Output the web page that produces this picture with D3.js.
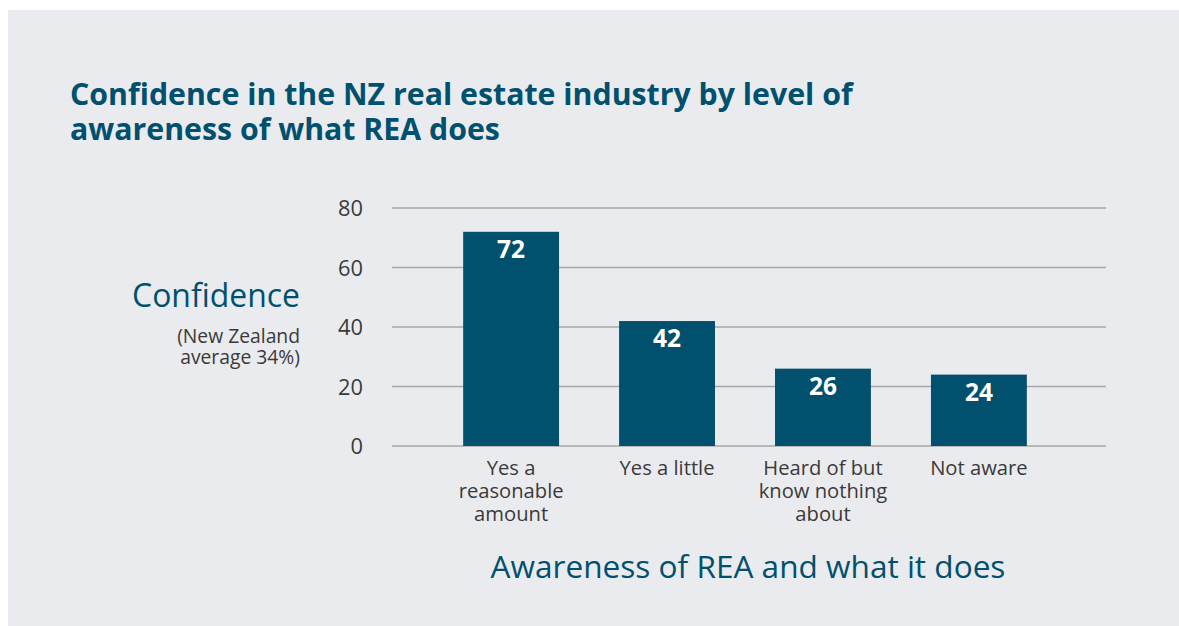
<!DOCTYPE html>
<html><head><meta charset="utf-8">
<script src="https://cdn.jsdelivr.net/npm/d3@7"></script>
<style>body{margin:0;background:#fff;} svg{display:block;} text{font-family:"Open Sans",sans-serif;}</style>
</head><body>
<svg id="c" width="1179" height="626"></svg>
<script>
const categories = [["Yes a","reasonable","amount"],["Yes a little"],["Heard of but","know nothing","about"],["Not aware"]];
const values = [72, 42, 26, 24];
const yTicks = [0, 20, 40, 60, 80];
const titleLines = ["Confidence in the NZ real estate industry by level of", "awareness of what REA does"];

const svg = d3.select("#c");
const teal = "#00506e";
const grey = "#3a3a3a";

// find a font size so that a sample string reaches a target width
function fitSize(str, target, weight, base){
  const t = svg.append("text").attr("font-size",base).attr("font-weight",weight).text(str);
  const w = t.node().getComputedTextLength();
  t.remove();
  return base*target/w;
}

svg.append("rect").attr("x",8).attr("y",10).attr("width",1171).attr("height",616).attr("fill","#eaebef");

const titleSize = fitSize(titleLines[0], 783, "bold", 28);
svg.append("text").attr("x",70).attr("y",105).attr("fill",teal).attr("font-weight","bold").attr("font-size",titleSize)
  .selectAll("tspan").data(titleLines).join("tspan").attr("x",70).attr("dy",(d,i)=>i?35:0).text(d=>d);

const y = d3.scaleLinear().domain([0,80]).range([446,208]);
const keys = categories.map((d,i)=>i);
const x = d3.scaleBand().domain(keys).range([393,1097]).paddingInner(0.385).paddingOuter(0.45);

const g = svg.append("g");
g.selectAll("line.grid").data(yTicks).join("line").attr("class","grid")
  .attr("x1",392).attr("x2",1106).attr("y1",d=>y(d)).attr("y2",d=>y(d))
  .attr("stroke","#a7a7a9").attr("stroke-width",1.3);

const tickSize = fitSize("80", 25, "normal", 17);
const yAxis = d3.axisLeft(y).tickValues(yTicks).tickSize(0).tickPadding(0);
const ya = svg.append("g").attr("transform","translate(363,0)").call(yAxis);
ya.select(".domain").remove();
ya.selectAll("text").attr("font-size",tickSize).attr("fill",grey).attr("font-family","'Open Sans', sans-serif").attr("dy","0.35em");

g.selectAll("rect.bar").data(values).join("rect").attr("class","bar")
  .attr("x",(d,i)=>x(i)).attr("width",x.bandwidth()).attr("y",d=>y(d)).attr("height",d=>y(0)-y(d)).attr("fill",teal);
const valSize = fitSize("72", 28, "bold", 21);
g.selectAll("text.val").data(values).join("text").attr("class","val")
  .attr("x",(d,i)=>x(i)+x.bandwidth()/2).attr("y",d=>y(d)+26).attr("text-anchor","middle")
  .attr("fill","#fff").attr("font-weight","bold").attr("font-size",valSize).text(d=>d);

const catSize = fitSize("Yes a little", 95, "normal", 17);
const xl = svg.append("g");
categories.forEach((lines,i)=>{
  const t = xl.append("text").attr("x",x(i)+x.bandwidth()/2).attr("y",475).attr("text-anchor","middle")
    .attr("font-size",catSize).attr("fill",grey);
  t.selectAll("tspan").data(lines).join("tspan").attr("x",x(i)+x.bandwidth()/2).attr("dy",(d,j)=>j?23:0).text(d=>d);
});

const confSize = fitSize("Confidence", 168, "normal", 26);
svg.append("text").attr("x",300).attr("y",307).attr("text-anchor","end").attr("font-size",confSize).attr("fill",teal).text("Confidence");
const noteSize = fitSize("(New Zealand", 123, "normal", 17);
svg.append("text").attr("x",300).attr("y",343).attr("text-anchor","end").attr("font-size",noteSize).attr("fill",grey)
  .selectAll("tspan").data(["(New Zealand","average 34%)"]).join("tspan").attr("x",300).attr("dy",(d,i)=>i?21:0).text(d=>d);

const axSize = fitSize("Awareness of REA and what it does", 515, "normal", 28);
svg.append("text").attr("x",748).attr("y",578).attr("text-anchor","middle").attr("font-size",axSize).attr("fill",teal).text("Awareness of REA and what it does");
</script>
</body></html>
